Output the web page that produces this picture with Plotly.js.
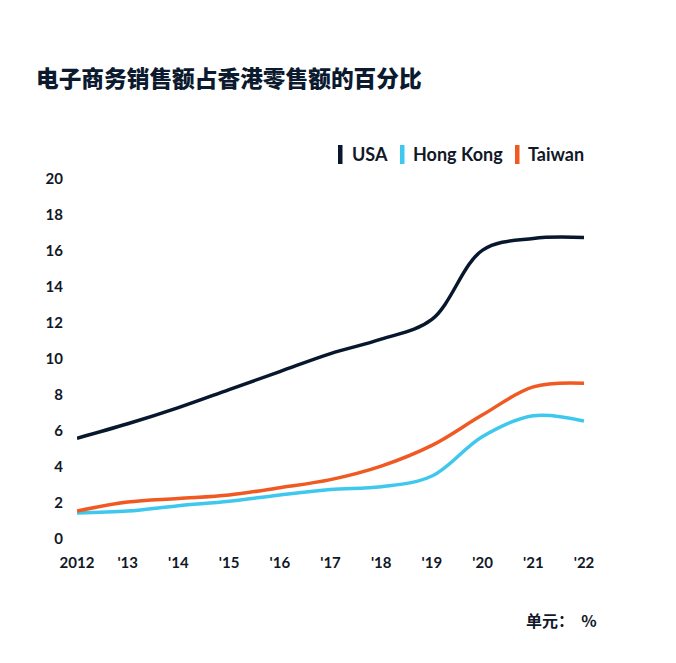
<!DOCTYPE html>
<html>
<head>
<meta charset="utf-8">
<script src="https://cdn.plot.ly/plotly-3.0.1.min.js"></script>
<style>
  html, body { margin: 0; padding: 0; background: #ffffff; }
  #chart { width: 676px; height: 663px; }
</style>
</head>
<body>
<div id="chart"></div>
<script>
// E-commerce share of retail sales, percent
const years = [2012, 2013, 2014, 2015, 2016, 2017, 2018, 2019, 2020, 2021, 2022];
const yearLabels = ["2012", "'13", "'14", "'15", "'16", "'17", "'18", "'19", "'20", "'21", "'22"];
const usa = [5.6, 6.4, 7.3, 8.3, 9.3, 10.3, 11.1, 12.2, 16.05, 16.7, 16.75];
const hongKong = [1.45, 1.55, 1.85, 2.1, 2.45, 2.75, 2.9, 3.5, 5.7, 6.85, 6.55];
const taiwan = [1.55, 2.05, 2.25, 2.45, 2.85, 3.3, 4.05, 5.2, 6.9, 8.45, 8.65];
const seriesNames = ["USA", "Hong Kong", "Taiwan"];
const yTicks = [0, 2, 4, 6, 8, 10, 12, 14, 16, 18, 20];

const colors = ["#07172d", "#3ec8ee", "#f05a22"];
const textColor = "#111827";

const W = 676, H = 663;
const margin = { l: 77, r: 92, t: 179, b: 124 };
const plotW = W - margin.l - margin.r;
const plotH = H - margin.t - margin.b;
// pixel position on the page -> paper coordinates
const px = v => (v - margin.l) / plotW;
const py = v => (H - margin.b - v) / plotH;

const values = [usa, hongKong, taiwan];
const traces = seriesNames.map((name, i) => ({
  x: years, y: values[i], name: name,
  type: "scatter", mode: "lines",
  line: { color: colors[i], width: 3.5, shape: "spline", smoothing: 1 },
  showlegend: false, hoverinfo: "x+y"
}));

// key: a short vertical bar followed by the series name
const keyBarX = [338, 400, 515];
const keyTextX = [350, 411, 526];
const keyY = 154;
const shapes = [];
const annotations = [];
seriesNames.forEach((name, i) => {
  shapes.push({
    type: "rect", xref: "paper", yref: "paper",
    x0: px(keyBarX[i]), x1: px(keyBarX[i] + 4.5),
    y0: py(keyY + 10), y1: py(keyY - 9),
    fillcolor: colors[i], line: { width: 0 }
  });
  annotations.push({
    text: name, xref: "paper", yref: "paper",
    x: px(keyTextX[i]), xanchor: "left",
    y: py(keyY), yanchor: "middle",
    showarrow: false,
    font: { family: "Lato, sans-serif", size: 18, color: textColor, weight: "bold" }
  });
});

annotations.push({
  text: "<b>单元：  %</b>",
  xref: "paper", yref: "paper",
  x: px(599), xanchor: "right",
  y: py(620), yanchor: "middle",
  showarrow: false,
  font: { family: "'Noto Sans CJK SC', sans-serif", size: 16, color: textColor }
});

const layout = {
  width: W, height: H,
  paper_bgcolor: "#ffffff", plot_bgcolor: "#ffffff",
  margin: margin,
  font: { family: "Lato, 'Noto Sans CJK SC', sans-serif", color: textColor },
  title: {
    text: "电子商务销售额占香港零售额的百分比",
    font: { family: "'Noto Sans CJK SC', sans-serif", size: 22.7, color: "#0b1a2e", weight: 900 },
    x: 36 / W, xanchor: "left", xref: "container",
    y: 1 - 79 / H, yanchor: "middle", yref: "container"
  },
  showlegend: false,
  xaxis: {
    range: [2012, 2022],
    tickmode: "array", tickvals: years, ticktext: yearLabels,
    showgrid: false, zeroline: false, showline: false, ticks: "",
    ticklabelstandoff: 13,
    tickfont: { family: "Lato, sans-serif", size: 15, color: textColor, weight: "bold" },
    fixedrange: true
  },
  yaxis: {
    range: [0, 20],
    tickmode: "array", tickvals: yTicks,
    showgrid: false, zeroline: false, showline: false, ticks: "",
    ticklabelstandoff: 13,
    tickfont: { family: "Lato, sans-serif", size: 15, color: textColor, weight: "bold" },
    fixedrange: true
  },
  shapes: shapes,
  annotations: annotations
};

Plotly.newPlot("chart", traces, layout, { displayModeBar: false, staticPlot: true });
</script>
</body>
</html>
